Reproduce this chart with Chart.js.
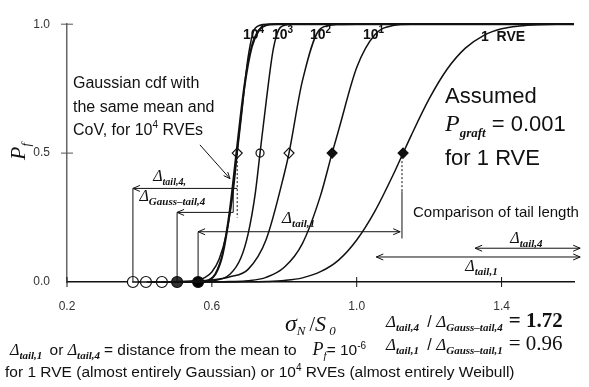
<!DOCTYPE html>
<html>
<head>
<meta charset="utf-8">
<script src="https://cdn.jsdelivr.net/npm/chart.js@4.4.0/dist/chart.umd.min.js"></script>
<style>
  html, body { margin: 0; padding: 0; background: #fff; }
  #chart { display: block; }
</style>
</head>
<body>
<canvas id="chart" width="589" height="387"></canvas>
<script>
// AXIS TICKS
const xTicks = [0.2, 0.6, 1.0, 1.4];
const yTicks = [0, 0.5, 1.0];

// STRENGTH CDF CURVES, sigma_N / S_0 -> P_f
const rve1Stress = [0.56, 0.65, 0.70, 0.75, 0.80, 0.85, 0.90, 0.95, 1.00, 1.05, 1.10, 1.128, 1.15, 1.20, 1.25, 1.30, 1.35, 1.40, 1.45, 1.50, 1.55, 1.60];
const rve1Prob = [0, 0.0002, 0.0005, 0.002, 0.006, 0.016, 0.04, 0.085, 0.163, 0.274, 0.414, 0.5, 0.567, 0.71, 0.826, 0.907, 0.956, 0.982, 0.993, 0.998, 1, 1];

const rve10Stress = [0.50, 0.65, 0.70, 0.75, 0.80, 0.85, 0.90, 0.932, 0.95, 1.00, 1.05, 1.10, 1.15, 1.60];
const rve10Prob = [0, 0.002, 0.005, 0.018, 0.057, 0.149, 0.335, 0.5, 0.589, 0.832, 0.959, 0.995, 1, 1];

const rve100Stress = [0.46, 0.60, 0.65, 0.70, 0.75, 0.80, 0.813, 0.85, 0.90, 0.95, 1.00, 1.60];
const rve100Prob = [0, 0.008, 0.02, 0.049, 0.165, 0.42, 0.5, 0.78, 0.983, 0.999, 1, 1];

const rve1000Stress = [0.42, 0.55, 0.60, 0.65, 0.68, 0.70, 0.72, 0.733, 0.75, 0.77, 0.79, 0.82, 1.60];
const rve1000Prob = [0, 0.0004, 0.004, 0.030, 0.093, 0.186, 0.345, 0.5, 0.70, 0.906, 0.989, 1, 1];

const rve10000Stress = [0.38, 0.50, 0.56, 0.58, 0.60, 0.62, 0.64, 0.66, 0.670, 0.68, 0.70, 0.72, 0.75, 1.60];
const rve10000Prob = [0, 0.0004, 0.007, 0.017, 0.039, 0.088, 0.187, 0.365, 0.5, 0.623, 0.871, 0.985, 1, 1];

const gaussStress = [0.50, 0.57, 0.59, 0.61, 0.63, 0.65, 0.668, 0.69, 0.71, 0.73, 0.75, 0.78, 1.60];
const gaussProb = [0, 0.001, 0.006, 0.031, 0.11, 0.28, 0.5, 0.76, 0.912, 0.977, 0.996, 1, 1];

// MARKERS: means (P_f = 0.5) and P_f = 1e-6 points, order 1e4, 1e3, 1e2, 1e1, 1
const meanStress = [0.670, 0.733, 0.813, 0.932, 1.128];
const tailStress = [0.382, 0.418, 0.462, 0.504, 0.562];

// TAIL LENGTH GUIDES
const tailGuides = [
    { from: 0.382, to: 0.670, prob: 0.363, heads: 'left' },  // tail,4
    { from: 0.504, to: 0.659, prob: 0.270, heads: 'left' },  // Gauss-tail,4
    { from: 0.562, to: 1.120, prob: 0.195, heads: 'both' }   // tail,1
];
const compareArrows = [
    { from: 1.327, to: 1.617, prob: 0.131 },
    { from: 1.054, to: 1.617, prob: 0.097 }
];

const SANS = '"Liberation Sans", Arial, sans-serif';
const SERIF = '"Liberation Serif", "Times New Roman", serif';

function toPoints(xs, ys) {
    return xs.map((x, i) => ({ x: x, y: ys[i] }));
}

function curve(xs, ys, width) {
    return {
        data: toPoints(xs, ys),
        borderColor: '#111',
        borderWidth: width,
        pointRadius: 0,
        cubicInterpolationMode: 'monotone',
        fill: false,
        clip: false
    };
}

function line(ctx, x1, y1, x2, y2) {
    ctx.beginPath();
    ctx.moveTo(x1, y1);
    ctx.lineTo(x2, y2);
    ctx.stroke();
}

function head(ctx, x, y, dir) {
    ctx.beginPath();
    ctx.moveTo(x - dir * 7, y - 3);
    ctx.lineTo(x, y);
    ctx.lineTo(x - dir * 7, y + 3);
    ctx.stroke();
}

// draws [text, font, dy] parts one after another, returns end x
function rich(ctx, x, y, parts) {
    ctx.textAlign = 'left';
    ctx.textBaseline = 'alphabetic';
    parts.forEach(([t, font, dy]) => {
        ctx.font = font;
        ctx.fillText(t, x, y + (dy || 0));
        x += ctx.measureText(t).width;
    });
    return x;
}

function delta(sub, size, subSize) {
    return [['Δ', `italic ${size}px ${SERIF}`, 0], [sub, `italic bold ${subSize || Math.round(size * 0.65)}px ${SERIF}`, 4]];
}

const annotate = {
    id: 'annotate',
    afterDraw(chart) {
        const ctx = chart.ctx;
        const X = v => chart.scales.x.getPixelForValue(v);
        const Y = v => chart.scales.y.getPixelForValue(v);
        ctx.save();
        ctx.strokeStyle = '#111';
        ctx.fillStyle = '#111';
        ctx.lineWidth = 1;

        // TICK MARKS CROSSING THE AXES
        xTicks.forEach(v => line(ctx, X(v), Y(0) - 5, X(v), Y(0) + 5));
        ctx.strokeStyle = '#555';
        yTicks.slice(1).forEach(v => line(ctx, X(0.2) - 6, Y(v), X(0.2) + 6, Y(v)));
        ctx.strokeStyle = '#111';

        // TAIL LENGTH GUIDES
        tailGuides.forEach(g => {
            line(ctx, X(g.from), Y(g.prob), X(g.to), Y(g.prob));
            line(ctx, X(g.from), Y(g.prob), X(g.from), Y(0));
            head(ctx, X(g.from), Y(g.prob), -1);
            if (g.heads === 'both') head(ctx, X(g.to), Y(g.prob), 1);
        });
        line(ctx, X(0.659), Y(0.363), X(0.659), Y(0.270));
        ctx.setLineDash([2, 2]);
        line(ctx, X(0.670), Y(0.5), X(0.670), Y(0.250));
        line(ctx, X(1.125), Y(0.5), X(1.125), Y(0.352));
        ctx.setLineDash([]);
        line(ctx, X(1.125), Y(0.352), X(1.125), Y(0.169));

        compareArrows.forEach(a => {
            line(ctx, X(a.from), Y(a.prob), X(a.to), Y(a.prob));
            head(ctx, X(a.from), Y(a.prob), -1);
            head(ctx, X(a.to), Y(a.prob), 1);
        });

        // POINTER FROM GAUSSIAN NOTE
        const px1 = X(0.567), py1 = Y(0.532), px2 = X(0.650), py2 = Y(0.401);
        line(ctx, px1, py1, px2, py2);
        const ang = Math.atan2(py2 - py1, px2 - px1);
        ctx.beginPath();
        ctx.moveTo(px2 - 7 * Math.cos(ang - 0.4), py2 - 7 * Math.sin(ang - 0.4));
        ctx.lineTo(px2, py2);
        ctx.lineTo(px2 - 7 * Math.cos(ang + 0.4), py2 - 7 * Math.sin(ang + 0.4));
        ctx.stroke();

        // DELTA LABELS
        rich(ctx, X(0.438), Y(0.363) - 7, delta('tail,4,', 16, 10));
        rich(ctx, X(0.400), Y(0.363) + 13, delta('Gauss–tail,4', 16, 11));
        rich(ctx, X(0.794), Y(0.195) - 9, delta('tail,1', 17, 11));
        rich(ctx, X(1.424), Y(0.131) - 5, delta('tail,4', 16, 11));
        rich(ctx, X(1.300), Y(0.097) + 14, delta('tail,1', 16, 11));

        // CURVE LABELS
        const bold = `bold 14px ${SANS}`, sup = `bold 10px ${SANS}`;
        [['4', 243], ['3', 272], ['2', 310], ['1', 363]].forEach(([e, x]) => {
            rich(ctx, x, 39, [['10', bold, 0], [e, sup, -6]]);
        });
        rich(ctx, 481, 41, [['1  RVE', bold, 0]]);

        // NOTES
        const note = `16px ${SANS}`;
        rich(ctx, 73, 88, [['Gaussian cdf with', note, 0]]);
        rich(ctx, 73, 112, [['the same mean and', note, 0]]);
        rich(ctx, 73, 135, [['CoV, for 10', note, 0], ['4', `10px ${SANS}`, -7], [' RVEs', note, 0]]);

        const big = `22px ${SANS}`;
        rich(ctx, 445, 103, [['Assumed', big, 0]]);
        rich(ctx, 445, 131, [['P', `italic 24px ${SERIF}`, 0], ['graft', `italic bold 13px ${SERIF}`, 6], [' = 0.001', big, 0]]);
        rich(ctx, 445, 165, [['for 1 RVE', big, 0]]);

        rich(ctx, 413, 217, [['Comparison of tail length', `15px ${SANS}`, 0]]);

        // RATIOS
        let x = rich(ctx, 386, 327, delta('tail,4', 17, 11));
        x = rich(ctx, x + 4, 327, [[' / ', `16px ${SANS}`, 0]]);
        x = rich(ctx, x, 327, delta('Gauss–tail,4', 17, 11));
        rich(ctx, x + 6, 327, [['= 1.72', `bold 21px ${SERIF}`, 0]]);
        x = rich(ctx, 386, 350, delta('tail,1', 17, 11));
        x = rich(ctx, x + 4, 350, [[' / ', `16px ${SANS}`, 0]]);
        x = rich(ctx, x, 350, delta('Gauss–tail,1', 17, 11));
        rich(ctx, x + 6, 350, [['= 0.96', `21px ${SERIF}`, 0]]);

        // AXIS TITLES
        x = rich(ctx, 285, 331, [['σ', `italic 24px ${SERIF}`, 0], ['N', `italic 13px ${SERIF}`, 4]]);
        rich(ctx, x + 4, 331, [['/', `20px ${SERIF}`, 0], ['S', `italic 22px ${SERIF}`, 0], [' 0', `italic 13px ${SERIF}`, 4]]);

        ctx.save();
        ctx.translate(25, 160);
        ctx.rotate(-Math.PI / 2);
        rich(ctx, 0, 0, [['P', `italic 22px ${SERIF}`, 0], ['f', `italic 13px ${SERIF}`, 5]]);
        ctx.restore();

        // FOOTNOTE
        const foot = `15.5px ${SANS}`;
        x = rich(ctx, 10, 355, delta('tail,1', 16, 11));
        x = rich(ctx, x + 3, 355, [[' or ', foot, 0]]);
        x = rich(ctx, x, 355, delta('tail,4', 16, 11));
        x = rich(ctx, x + 4, 355, [['= distance from the mean to', foot, 0]]);
        rich(ctx, x + 16, 355, [['P', `italic 18px ${SERIF}`, 0], ['f', `italic 11px ${SERIF}`, 4], ['= 10', foot, 0], ['-6', `10px ${SANS}`, -6]]);
        rich(ctx, 5, 377, [['for 1 RVE (almost entirely Gaussian) or 10', foot, 0], ['4', `10px ${SANS}`, -6], [' RVEs (almost entirely Weibull)', foot, 0]]);

        ctx.restore();
    }
};

new Chart(document.getElementById('chart'), {
    type: 'line',
    data: {
        datasets: [
            curve(gaussStress, gaussProb, 2.2),
            curve(rve1Stress, rve1Prob, 1.5),
            curve(rve10Stress, rve10Prob, 1.5),
            curve(rve100Stress, rve100Prob, 1.5),
            curve(rve1000Stress, rve1000Prob, 1.5),
            curve(rve10000Stress, rve10000Prob, 1.5),
            {
                data: meanStress.map(s => ({ x: s, y: 0.5 })),
                showLine: false,
                pointStyle: ['rectRot', 'circle', 'rectRot', 'rectRot', 'rectRot'],
                pointRadius: [5, 4, 5, 5, 5],
                pointBackgroundColor: ['#fff', '#fff', '#fff', '#111', '#111'],
                pointBorderColor: '#111',
                pointBorderWidth: 1.2,
                clip: false
            },
            {
                data: [meanStress[0], meanStress[2]].map(s => ({ x: s, y: 0.5 })),
                showLine: false,
                pointStyle: 'cross',
                pointRadius: 3,
                pointBorderColor: '#111',
                pointBorderWidth: 1,
                clip: false
            },
            {
                data: tailStress.map(s => ({ x: s, y: 0 })),
                showLine: false,
                pointStyle: 'circle',
                pointRadius: 5.5,
                pointBackgroundColor: ['#fff', '#fff', '#fff', '#333', '#000'],
                pointBorderColor: '#111',
                pointBorderWidth: 1.2,
                clip: false
            }
        ]
    },
    options: {
        responsive: false,
        devicePixelRatio: 1,
        animation: false,
        layout: { padding: { top: 15, right: 15, left: 0, bottom: 0 } },
        plugins: {
            legend: { display: false },
            tooltip: { enabled: false }
        },
        scales: {
            x: {
                type: 'linear',
                min: 0.2,
                max: 1.6,
                afterBuildTicks: s => { s.ticks = xTicks.map(v => ({ value: v })); },
                afterFit: s => { s.height = 105; },
                grid: { display: false, drawTicks: false },
                border: { color: '#111', width: 1.5 },
                ticks: {
                    padding: 17,
                    maxRotation: 0,
                    color: '#333',
                    font: { family: SANS, size: 12 },
                    callback: v => v.toFixed(1)
                }
            },
            y: {
                min: 0,
                max: 1,
                afterBuildTicks: s => { s.ticks = yTicks.map(v => ({ value: v })); },
                afterFit: s => { s.width = 67; },
                grid: { display: false, drawTicks: false },
                border: { color: '#666', width: 1.5, dash: [9, 3] },
                ticks: {
                    padding: 17,
                    color: '#333',
                    font: { family: SANS, size: 12 },
                    callback: v => v.toFixed(1)
                }
            }
        }
    },
    plugins: [annotate]
});
</script>
</body>
</html>
